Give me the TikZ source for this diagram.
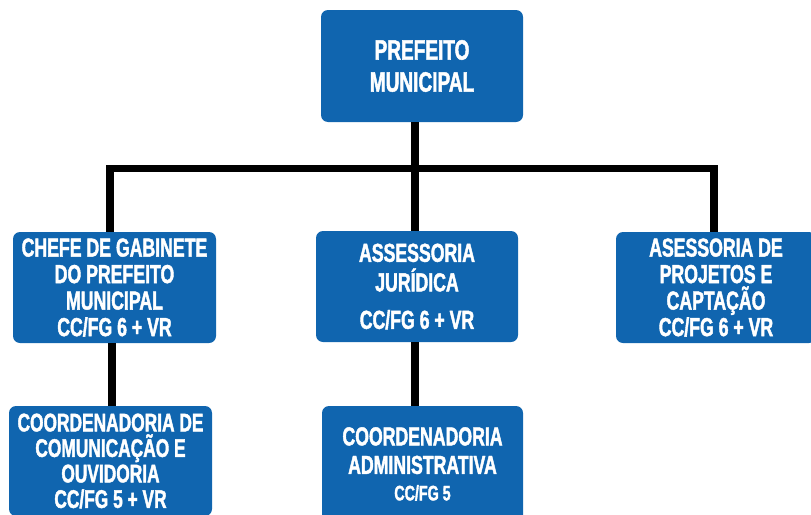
\documentclass[tikz,border=0pt]{standalone}
\usepackage{fontspec}
\newfontfamily\orgfont{Liberation Sans}[FakeStretch=0.68,FakeBold=1.6]
\definecolor{orgblue}{HTML}{1065AF}
\tikzset{
  box/.style={fill=orgblue,text=white,rounded corners=7pt,align=center,inner sep=0pt,
    font=\orgfont\bfseries\fontsize{26}{26.5}\selectfont},
  link/.style={line width=7.5pt,black}
}

\begin{document}
\begin{tikzpicture}[x=1pt,y=-1pt]
    \useasboundingbox (0,0) rectangle (811,514);
    %% boxes
    \node[box,minimum width=202pt,minimum height=112pt,
      font=\orgfont\bfseries\fontsize{28}{32}\selectfont] (pref) at (422,66) {PREFEITO\\MUNICIPAL};
    \node[box,minimum width=203pt,minimum height=111pt] (chefe) at (114.5,287.5)
      {CHEFE DE GABINETE\\DO PREFEITO\\MUNICIPAL\\CC/FG 6 + VR};
    \node[box,minimum width=202pt,minimum height=111pt] (jur) at (417,286.5)
      {ASSESSORIA\\[3pt]JURÍDICA\\[11pt]CC/FG 6 + VR};
    \node[box,minimum width=200pt,minimum height=111pt] (proj) at (716,287.5)
      {ASESSORIA DE\\PROJETOS E\\CAPTAÇÃO\\CC/FG 6 + VR};
    \node[box,minimum width=203pt,minimum height=110pt,
      font=\orgfont\bfseries\fontsize{25.5}{25.5}\selectfont] (com) at (110.5,461)
      {COORDENADORIA DE\\COMUNICAÇÃO E\\OUVIDORIA\\CC/FG 5 + VR};
    \node[box,minimum width=201pt,minimum height=116pt] (adm) at (422.5,464)
      {COORDENADORIA\\[2pt]ADMINISTRATIVA\\{\fontsize{21}{24}\selectfont CC/FG 5}};
    %% connectors
    \coordinate (bar) at (0,168.5);
    \coordinate (lspine) at (110,0);
    \coordinate (cspine) at (112,0);
    \coordinate (spine) at (415,0);
    \coordinate (rspine) at (714,0);
    \draw[link] (pref.south -| spine) -- (jur.north -| spine);
    \draw[link] (chefe.north -| lspine) |- (bar -| rspine) -- (proj.north -| rspine);
    \draw[link] (chefe.south -| cspine) -- (com.north -| cspine);
    \draw[link] (jur.south -| spine) -- (adm.north -| spine);
\end{tikzpicture}
\end{document}
